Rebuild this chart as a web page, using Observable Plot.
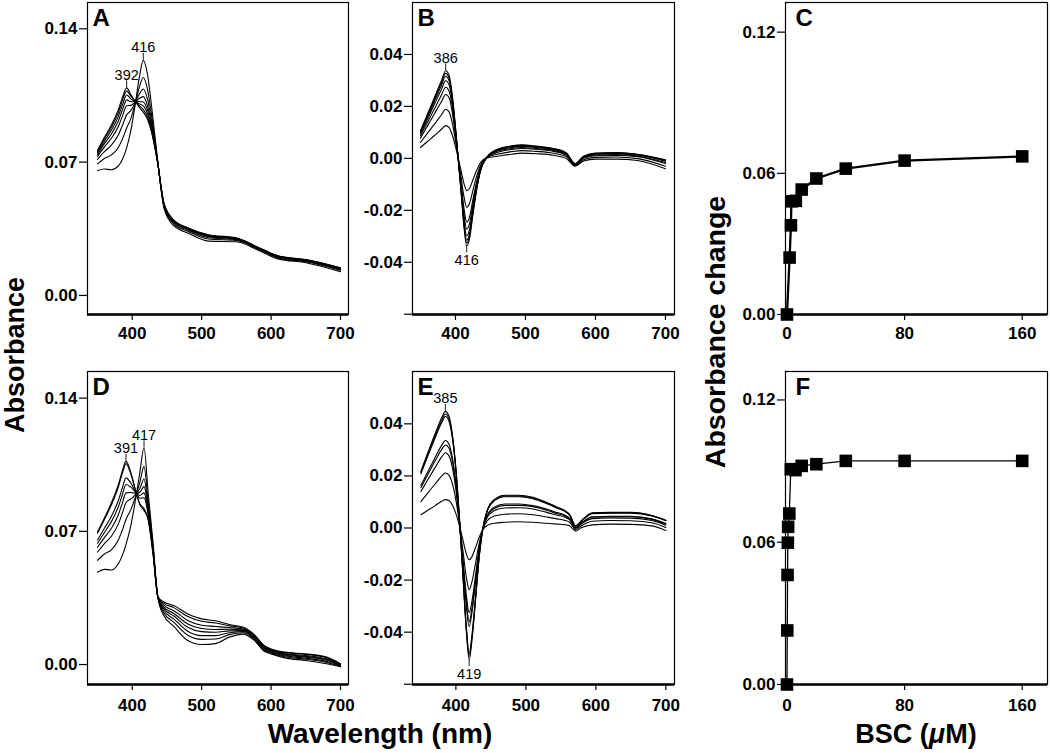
<!DOCTYPE html>
<html><head><meta charset="utf-8">
<script src="https://cdn.jsdelivr.net/npm/d3@7"></script>
<script src="https://cdn.jsdelivr.net/npm/@observablehq/plot@0.6"></script>
<style>
body{margin:0;background:#fff;}
#fig{position:relative;width:1050px;height:753px;overflow:hidden;background:#fff;font-family:"Liberation Sans",Arial,Helvetica,sans-serif;}
.t{position:absolute;font-weight:bold;white-space:nowrap;line-height:1;color:#000;}
</style></head><body><div id="fig"></div>
<script>
// ---------- Panel A (absorbance spectra, titration 1) ----------
const wavelengthsA = [350,360,370,380,386,392,398,404,410,416,422,428,436,446,460,480,510,550,580,610,650,700];
const spectraA = [
 [.0656,.0664,.0660,.0680,.0715,.0775,.0865,.0995,.1140,.1234,.1160,.0990,.0730,.0455,.0365,.0328,.0285,.0282,.0240,.0192,.0172,.0125],
 [.0691,.0719,.0738,.0777,.0822,.0879,.0928,.1004,.1090,.1144,.1082,.0945,.0723,.0463,.0375,.0337,.0296,.0289,.0245,.0197,.0177,.0132],
 [.0714,.0755,.0789,.0842,.0894,.0948,.0970,.1010,.1056,.1084,.1031,.0916,.0719,.0469,.0382,.0343,.0303,.0293,.0248,.0201,.0181,.0136],
 [.0730,.0780,.0825,.0887,.0943,.0996,.0998,.1014,.1034,.1044,.0996,.0896,.0716,.0473,.0386,.0347,.0308,.0296,.0251,.0203,.0183,.0139],
 [.0740,.0797,.0848,.0916,.0975,.1027,.1017,.1017,.1018,.1016,.0972,.0882,.0714,.0475,.0389,.0350,.0311,.0298,.0252,.0205,.0185,.0141],
 [.0748,.0810,.0867,.0940,.1001,.1052,.1032,.1019,.1006,.0995,.0953,.0871,.0712,.0477,.0391,.0352,.0314,.0300,.0253,.0206,.0186,.0143],
 [.0756,.0822,.0883,.0960,.1024,.1074,.1046,.1021,.0996,.0976,.0937,.0862,.0711,.0479,.0394,.0354,.0316,.0301,.0254,.0207,.0187,.0144],
 [.0761,.0830,.0895,.0975,.1040,.1090,.1055,.1022,.0988,.0962,.0925,.0855,.0710,.0480,.0395,.0355,.0318,.0302,.0255,.0208,.0188,.0145]
];
const peaksA = [{wavelength:392,label:"392",dir:"up"},{wavelength:416,label:"416",dir:"up"}];

// ---------- Panel B (difference spectra, titration 1) ----------
const wavelengthsB = [350,360,370,380,386,391,396,400,404,408,412,416,420,425,430,436,445,460,480,495,515,540,558,571,583,600,630,660,700];
const spectraB = [
 [.0042,.0065,.0088,.0112,.0126,.0118,.0085,.0045,.0000,-.0048,-.0095,-.0124,-.0116,-.0082,-.0048,-.0015,.0002,.0008,.0016,.0020,.0018,.0012,.0000,-.0030,-.0010,-.0003,-.0003,-.0008,-.0040],
 [.0061,.0097,.0132,.0168,.0189,.0178,.0129,.0068,.0000,-.0073,-.0145,-.0188,-.0174,-.0122,-.0071,-.0024,.0003,.0016,.0026,.0030,.0027,.0020,.0007,-.0027,-.0005,.0004,.0005,-.0001,-.0030],
 [.0078,.0125,.0172,.0219,.0246,.0232,.0168,.0088,-.0002,-.0095,-.0189,-.0245,-.0227,-.0158,-.0092,-.0032,.0004,.0023,.0034,.0038,.0035,.0027,.0013,-.0024,.0000,.0010,.0011,.0006,-.0020],
 [.0087,.0139,.0191,.0244,.0274,.0258,.0187,.0098,-.0003,-.0105,-.0211,-.0272,-.0252,-.0175,-.0102,-.0036,.0004,.0027,.0038,.0042,.0038,.0030,.0015,-.0023,.0003,.0013,.0015,.0009,-.0016],
 [.0095,.0151,.0209,.0266,.0299,.0282,.0204,.0107,-.0004,-.0115,-.0230,-.0298,-.0275,-.0191,-.0111,-.0040,.0004,.0030,.0042,.0046,.0042,.0033,.0018,-.0022,.0005,.0016,.0018,.0012,-.0011],
 [.0100,.0160,.0220,.0281,.0316,.0298,.0216,.0113,-.0004,-.0122,-.0244,-.0315,-.0291,-.0202,-.0117,-.0042,.0005,.0032,.0045,.0049,.0044,.0035,.0020,-.0021,.0006,.0018,.0020,.0014,-.0009],
 [.0103,.0165,.0228,.0291,.0327,.0308,.0223,.0116,-.0005,-.0126,-.0252,-.0325,-.0300,-.0208,-.0121,-.0044,.0005,.0034,.0046,.0050,.0046,.0037,.0021,-.0021,.0007,.0019,.0021,.0015,-.0007],
 [.0106,.0170,.0235,.0300,.0337,.0318,.0230,.0120,-.0005,-.0130,-.0260,-.0336,-.0310,-.0215,-.0125,-.0045,.0005,.0035,.0048,.0052,.0047,.0038,.0022,-.0020,.0008,.0020,.0022,.0016,-.0005]
];
const peaksB = [{wavelength:386,label:"386",dir:"up"},{wavelength:416,label:"416",dir:"down"}];

// ---------- Panel C (titration curve 1) ----------
const bscC = [0, 1.8, 2.7, 3, 6, 10, 20, 40, 80, 160];
const changeC = [0, .0242, .0379, .0481, .0483, .0531, .0578, .0620, .0654, .0672];

// ---------- Panel D (absorbance spectra, titration 2) ----------
const wavelengthsD = [350,360,370,380,386,391,398,406,411,417,423,430,437,445,460,480,500,520,540,560,575,590,600,620,650,680,700];
const spectraD = [
 [.0485,.0500,.0497,.0530,.0575,.0630,.0730,.0895,.1010,.1139,.0900,.0640,.0350,.0260,.0200,.0126,.0105,.0110,.0144,.0160,.0130,.0070,.0056,.0035,.0021,.0004,-.0012],
 [.0548,.0581,.0603,.0655,.0709,.0762,.0814,.0897,.0959,.1040,.0858,.0622,.0351,.0274,.0222,.0154,.0132,.0134,.0157,.0167,.0136,.0076,.0061,.0041,.0028,.0011,-.0009],
 [.0591,.0635,.0674,.0738,.0798,.0850,.0870,.0898,.0925,.0975,.0830,.0610,.0352,.0285,.0239,.0175,.0152,.0152,.0167,.0173,.0141,.0081,.0065,.0046,.0033,.0016,-.0006],
 [.0616,.0667,.0716,.0787,.0851,.0902,.0904,.0899,.0905,.0935,.0813,.0603,.0353,.0295,.0255,.0196,.0173,.0170,.0177,.0178,.0145,.0085,.0069,.0050,.0039,.0022,-.0004],
 [.0637,.0694,.0751,.0829,.0895,.0946,.0932,.0900,.0888,.0902,.0799,.0597,.0354,.0303,.0268,.0213,.0189,.0184,.0185,.0182,.0149,.0089,.0072,.0054,.0043,.0026,-.0002],
 [.0654,.0716,.0779,.0862,.0931,.0981,.0954,.0900,.0874,.0876,.0788,.0592,.0355,.0313,.0283,.0231,.0206,.0200,.0194,.0187,.0153,.0093,.0076,.0058,.0047,.0030,.0000],
 [.0690,.0762,.0839,.0933,.1007,.1056,.1002,.0898,.0845,.0820,.0764,.0582,.0357,.0323,.0299,.0252,.0227,.0218,.0203,.0192,.0157,.0097,.0079,.0062,.0053,.0036,.0002],
 [.0696,.0770,.0850,.0945,.1020,.1069,.1010,.0897,.0840,.0810,.0760,.0580,.0358,.0330,.0310,.0266,.0240,.0230,.0210,.0196,.0160,.0100,.0082,.0065,.0056,.0039,.0004]
];
const peaksD = [{wavelength:391,label:"391",dir:"up"},{wavelength:417,label:"417",dir:"up"}];

// ---------- Panel E (difference spectra, titration 2) ----------
const wavelengthsE = [350,360,370,380,385,390,395,400,405,410,415,419,423,428,433,438,445,455,470,490,510,530,545,555,563,571,580,595,620,650,680,700];
const spectraE = [
 [.0051,.0068,.0085,.0103,.0109,.0106,.0088,.0055,.0010,-.0045,-.0100,-.0122,-.0110,-.0075,-.0038,-.0008,.0010,.0018,.0022,.0024,.0022,.0018,.0015,.0013,.0008,-.0012,.0002,.0012,.0015,.0014,.0008,-.0010],
 [.0101,.0135,.0168,.0200,.0211,.0203,.0170,.0108,.0019,-.0086,-.0190,-.0237,-.0206,-.0137,-.0063,-.0009,.0028,.0046,.0053,.0055,.0051,.0042,.0035,.0030,.0021,-.0006,.0010,.0026,.0029,.0028,.0020,.0002],
 [.0140,.0186,.0231,.0274,.0289,.0278,.0232,.0148,.0026,-.0117,-.0259,-.0325,-.0280,-.0184,-.0082,-.0009,.0042,.0067,.0077,.0078,.0073,.0060,.0049,.0042,.0030,-.0001,.0017,.0036,.0039,.0038,.0029,.0011],
 [.0155,.0206,.0256,.0303,.0319,.0307,.0257,.0164,.0029,-.0129,-.0286,-.0360,-.0308,-.0202,-.0089,-.0009,.0047,.0075,.0087,.0087,.0082,.0068,.0055,.0047,.0034,.0000,.0019,.0041,.0043,.0043,.0033,.0015],
 [.0163,.0217,.0269,.0319,.0336,.0323,.0270,.0172,.0030,-.0136,-.0301,-.0379,-.0324,-.0212,-.0093,-.0009,.0050,.0080,.0092,.0092,.0086,.0072,.0059,.0050,.0036,.0001,.0021,.0043,.0045,.0045,.0035,.0017],
 [.0208,.0277,.0344,.0406,.0428,.0411,.0344,.0220,.0038,-.0172,-.0382,-.0482,-.0411,-.0268,-.0115,-.0010,.0066,.0105,.0120,.0120,.0112,.0093,.0076,.0065,.0047,.0007,.0028,.0055,.0057,.0057,.0046,.0028],
 [.0213,.0283,.0352,.0415,.0438,.0420,.0352,.0225,.0039,-.0176,-.0391,-.0494,-.0420,-.0274,-.0118,-.0010,.0068,.0107,.0123,.0123,.0115,.0096,.0078,.0066,.0049,.0007,.0029,.0057,.0059,.0059,.0047,.0029],
 [.0218,.0290,.0360,.0425,.0448,.0430,.0360,.0230,.0040,-.0180,-.0400,-.0505,-.0430,-.0280,-.0120,-.0010,.0070,.0110,.0126,.0126,.0118,.0098,.0080,.0068,.0050,.0008,.0030,.0058,.0060,.0060,.0048,.0030]
];
const peaksE = [{wavelength:385,label:"385",dir:"up"},{wavelength:419,label:"419",dir:"down"}];

// ---------- Panel F (titration curve 2) ----------
const bscF = [0, 0.2, 0.4, 0.6, 0.8, 1.6, 2.6, 5.8, 10, 20, 40, 80, 160];
const changeF = [0, .0228, .0462, .0598, .0665, .0721, .0908, .0904, .0922, .0929, .0943, .0943, .0943];

// ---------- tick values ----------
const ticksAbs = [0, 0.07, 0.14];
const ticksDiff = [-0.06, -0.04, -0.02, 0, 0.02, 0.04];
const ticksChange = [0, 0.06, 0.12];
const ticksWavelength = [400, 500, 600, 700];
const ticksBSC = [0, 80, 160];

// ---------- drawing ----------
const FONT = '"Liberation Sans", Arial, Helvetica, sans-serif';
const fig = document.getElementById("fig");

function toRows(wl, spectra) {
  return spectra.flatMap((s, i) => s.map((v, j) => ({w: wl[j], v, curve: i})));
}
function peakRows(wl, spectra, peaks) {
  return peaks.map(p => {
    const j = wl.indexOf(p.wavelength);
    const vals = spectra.map(s => s[j]);
    return {...p, value: p.dir === "up" ? Math.max(...vals) : Math.min(...vals)};
  });
}

function panel(o) {
  const mL = 80, mR = 4, mT = 2, mB = 40;
  const frameW = o.x1 - o.x0, frameH = o.y1 - o.y0;
  const plot = Plot.plot({
    width: frameW + mL + mR, height: frameH + mT + mB,
    marginLeft: mL, marginRight: mR, marginTop: mT, marginBottom: mB,
    x: {domain: o.xDomain, label: null},
    y: {domain: o.yDomain, label: null},
    style: {background: "transparent", overflow: "visible", fontFamily: FONT, fontWeight: "bold", color: "black"},
    marks: [
      Plot.axisY(o.yTicks, {tickFormat: o.yFmt, tickSize: 8, tickPadding: 2, fontSize: 17, fontWeight: "bold", label: null, strokeWidth: 1.2}),
      Plot.axisX(o.xTicks, {tickFormat: d => String(d), tickSize: 6, tickPadding: o.tickPad, fontSize: 17, fontWeight: "bold", label: null, strokeWidth: 1.2}),
      ...o.marks,
      Plot.frame({stroke: "black", strokeWidth: 1.2}),
      Plot.ruleY([o.yDomain[0]], {stroke: "black", strokeWidth: 2.4}),
      Plot.text([o.letter], {frameAnchor: "top-left", text: d => d, dx: o.letterDx, dy: 6, lineAnchor: "top", fontSize: 24, fontWeight: "bold", fill: "black"})
    ]
  });
  plot.style.position = "absolute";
  plot.style.left = (o.x0 - mL) + "px";
  plot.style.top = (o.y0 - mT) + "px";
  plot.style.maxWidth = "none";
  fig.appendChild(plot);
}

function spectraMarks(wl, spectra, peaks, yDomain, frameH) {
  const rows = toRows(wl, spectra);
  const pk = peakRows(wl, spectra, peaks);
  const unit = (yDomain[1] - yDomain[0]) / frameH; // data units per px
  const tickLen = 7 * unit;
  const up = pk.filter(d => d.dir === "up"), down = pk.filter(d => d.dir === "down");
  return [
    Plot.line(rows, {x: "w", y: "v", z: "curve", stroke: "black", strokeWidth: 1.1, curve: "monotone-x"}),
    Plot.ruleX(up, {x: "wavelength", y1: "value", y2: d => d.value + tickLen, stroke: "black", strokeWidth: 0.9}),
    Plot.ruleX(down, {x: "wavelength", y1: "value", y2: d => d.value - tickLen, stroke: "black", strokeWidth: 0.9}),
    Plot.text(up, {x: "wavelength", y: "value", text: "label", dy: -8, lineAnchor: "bottom", fontSize: 14.5, fontWeight: "normal", fill: "black"}),
    Plot.text(down, {x: "wavelength", y: "value", text: "label", dy: 9, lineAnchor: "top", fontSize: 14.5, fontWeight: "normal", fill: "black"})
  ];
}

function titrationMarks(xs, ys, lineWidth) {
  const rows = xs.map((x, i) => ({x, y: ys[i]}));
  return [
    Plot.line(rows, {x: "x", y: "y", stroke: "black", strokeWidth: lineWidth}),
    Plot.dot(rows, {x: "x", y: "y", symbol: "square", r: 7.1, fill: "black", stroke: "none"})
  ];
}

const fmt2 = d => d.toFixed(2);
const fmtDiff = d => (Math.abs(d + 0.06) < 1e-9 ? "" : d.toFixed(2));

const col1 = [87, 348], col2 = [412, 674], col3 = [785, 1047];
const row1 = [2, 314], row2 = [371, 684];

// A
{
  const yD = [-0.0100, 0.1538];
  panel({x0: col1[0], x1: col1[1], y0: row1[0], y1: row1[1], xDomain: [335.6, 711.5], yDomain: yD,
    yTicks: ticksAbs, yFmt: fmt2, xTicks: ticksWavelength, tickPad: 6, letter: "A", letterDx: 5,
    marks: spectraMarks(wavelengthsA, spectraA, peaksA, yD, row1[1] - row1[0])});
}
// B
{
  const yD = [-0.0601, 0.0600];
  panel({x0: col2[0], x1: col2[1], y0: row1[0], y1: row1[1], xDomain: [338.6, 712.9], yDomain: yD,
    yTicks: ticksDiff, yFmt: fmtDiff, xTicks: ticksWavelength, tickPad: 6, letter: "B", letterDx: 5,
    marks: spectraMarks(wavelengthsB, spectraB, peaksB, yD, row1[1] - row1[0])});
}
// C
{
  const yD = [0, 0.1326];
  panel({x0: col3[0], x1: col3[1], y0: row1[0], y1: row1[1], xDomain: [-1, 177.2], yDomain: yD,
    yTicks: ticksChange, yFmt: fmt2, xTicks: ticksBSC, tickPad: 6, letter: "C", letterDx: 10,
    marks: titrationMarks(bscC, changeC, 2.3)});
}
// D
{
  const yD = [-0.0105, 0.1540];
  panel({x0: col1[0], x1: col1[1], y0: row2[0], y1: row2[1], xDomain: [335.6, 711.5], yDomain: yD,
    yTicks: ticksAbs, yFmt: fmt2, xTicks: ticksWavelength, tickPad: 8, letter: "D", letterDx: 5,
    marks: spectraMarks(wavelengthsD, spectraD, peaksD, yD, row2[1] - row2[0])});
}
// E
{
  const yD = [-0.0601, 0.0601];
  panel({x0: col2[0], x1: col2[1], y0: row2[0], y1: row2[1], xDomain: [338, 712.4], yDomain: yD,
    yTicks: ticksDiff, yFmt: fmtDiff, xTicks: ticksWavelength, tickPad: 8, letter: "E", letterDx: 5,
    marks: spectraMarks(wavelengthsE, spectraE, peaksE, yD, row2[1] - row2[0])});
}
// F
{
  const yD = [0, 0.132];
  panel({x0: col3[0], x1: col3[1], y0: row2[0], y1: row2[1], xDomain: [-1, 177.2], yDomain: yD,
    yTicks: ticksChange, yFmt: fmt2, xTicks: ticksBSC, tickPad: 8, letter: "F", letterDx: 10,
    marks: titrationMarks(bscF, changeF, 1.3)});
}

// ---------- axis titles ----------
function title(html, cx, cy, size, rotate) {
  const d = document.createElement("div");
  d.className = "t";
  d.innerHTML = html;
  d.style.fontSize = size + "px";
  d.style.left = cx + "px";
  d.style.top = cy + "px";
  d.style.transform = "translate(-50%,-50%)" + (rotate ? " rotate(-90deg)" : "");
  fig.appendChild(d);
}
title("Absorbance", 14.5, 355, 27, true);
title("Absorbance change", 714.5, 331.5, 28.5, true);
title("Wavelength (nm)", 380, 734, 28, false);
title("BSC (<i>μ</i>M)", 916, 734, 27, false);
</script></body></html>
